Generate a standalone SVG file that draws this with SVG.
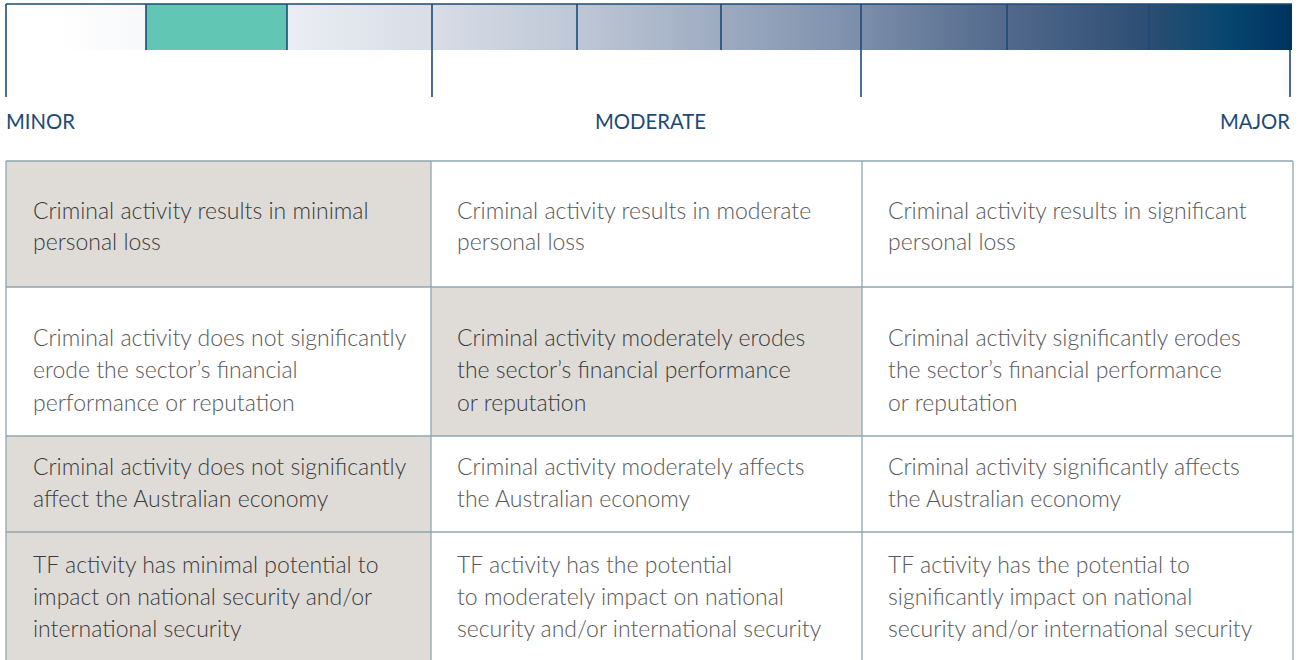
<svg xmlns="http://www.w3.org/2000/svg" width="1305" height="660" viewBox="0 0 1305 660">
<style>
.hd{font-family:"Lato","Liberation Sans",sans-serif;font-size:22px;fill:#1b4a77}
.tx{font-family:"Lato","Liberation Sans",sans-serif;font-weight:300;font-size:23px}
.sh .tx{fill:#3a3a3a}
.wh .tx{fill:#585858}
.sh rect{fill:#dfdcd8}
.wh rect{fill:#ffffff}
.tick{stroke:#1d4a75;stroke-width:1.6;fill:none}
.grid{stroke:#8fa6ae;stroke-width:1.3;fill:none}
</style>
<defs>
<linearGradient id="scale" gradientUnits="userSpaceOnUse" x1="6" y1="0" x2="1292" y2="0">
<stop offset="0" stop-color="#ffffff"/>
<stop offset="0.042" stop-color="#ffffff"/>
<stop offset="0.109" stop-color="#f7f8fa"/>
<stop offset="0.219" stop-color="#eaedf3"/>
<stop offset="0.331" stop-color="#d8dde6"/>
<stop offset="0.444" stop-color="#bec7d6"/>
<stop offset="0.556" stop-color="#9dabc1"/>
<stop offset="0.665" stop-color="#7b8eaa"/>
<stop offset="0.778" stop-color="#52698c"/>
<stop offset="0.889" stop-color="#2c4e72"/>
<stop offset="0.95" stop-color="#06466f"/>
<stop offset="1" stop-color="#00335f"/>
</linearGradient>
</defs>
<rect x="0" y="0" width="1305" height="660" fill="#ffffff"/>

<g id="scale-bar">
<rect x="6" y="4" width="1286" height="46" fill="url(#scale)"/>
<rect x="146" y="4" width="141" height="46" fill="#62c6b5"/>
<line class="tick" x1="6" y1="4" x2="1292" y2="4"/>
<line class="tick" x1="6" y1="4" x2="6" y2="97"/>
<line class="tick" x1="146" y1="4" x2="146" y2="50"/>
<line class="tick" x1="287" y1="4" x2="287" y2="50"/>
<line class="tick" x1="432" y1="4" x2="432" y2="97"/>
<line class="tick" x1="577" y1="4" x2="577" y2="50"/>
<line class="tick" x1="721" y1="4" x2="721" y2="50"/>
<line class="tick" x1="861" y1="4" x2="861" y2="97"/>
<line class="tick" x1="1007" y1="4" x2="1007" y2="50"/>
<line class="tick" x1="1149" y1="4" x2="1149" y2="50"/>
<line class="tick" x1="1290" y1="50" x2="1290" y2="97"/>
</g>

<g id="label-minor"><text class="hd" x="6" y="129" textLength="69" lengthAdjust="spacingAndGlyphs">MINOR</text></g>
<g id="label-moderate"><text class="hd" x="595" y="129" textLength="111" lengthAdjust="spacingAndGlyphs">MODERATE</text></g>
<g id="label-major"><text class="hd" x="1220" y="129" textLength="70" lengthAdjust="spacingAndGlyphs">MAJOR</text></g>

<g id="r1c1" class="sh"><rect x="6" y="161" width="425" height="126"/>
<text class="tx" x="33" y="219">Criminal activity results in minimal</text>
<text class="tx" x="33" y="250">personal loss</text></g>
<g id="r1c2" class="wh"><rect x="431" y="161" width="431" height="126"/>
<text class="tx" x="457" y="219">Criminal activity results in moderate</text>
<text class="tx" x="457" y="250">personal loss</text></g>
<g id="r1c3" class="wh"><rect x="862" y="161" width="431" height="126"/>
<text class="tx" x="888" y="219">Criminal activity results in significant</text>
<text class="tx" x="888" y="250">personal loss</text></g>

<g id="r2c1" class="wh"><rect x="6" y="287" width="425" height="149"/>
<text class="tx" x="33" y="346">Criminal activity does not significantly</text>
<text class="tx" x="33" y="378">erode the sector’s financial</text>
<text class="tx" x="33" y="411">performance or reputation</text></g>
<g id="r2c2" class="sh"><rect x="431" y="287" width="431" height="149"/>
<text class="tx" x="457" y="346">Criminal activity moderately erodes</text>
<text class="tx" x="457" y="378">the sector’s financial performance</text>
<text class="tx" x="457" y="411">or reputation</text></g>
<g id="r2c3" class="wh"><rect x="862" y="287" width="431" height="149"/>
<text class="tx" x="888" y="346">Criminal activity significantly erodes</text>
<text class="tx" x="888" y="378">the sector’s financial performance</text>
<text class="tx" x="888" y="411">or reputation</text></g>

<g id="r3c1" class="sh"><rect x="6" y="436" width="425" height="96"/>
<text class="tx" x="33" y="475">Criminal activity does not significantly</text>
<text class="tx" x="33" y="507">affect the Australian economy</text></g>
<g id="r3c2" class="wh"><rect x="431" y="436" width="431" height="96"/>
<text class="tx" x="457" y="475">Criminal activity moderately affects</text>
<text class="tx" x="457" y="507">the Australian economy</text></g>
<g id="r3c3" class="wh"><rect x="862" y="436" width="431" height="96"/>
<text class="tx" x="888" y="475">Criminal activity significantly affects</text>
<text class="tx" x="888" y="507">the Australian economy</text></g>

<g id="r4c1" class="sh"><rect x="6" y="532" width="425" height="130"/>
<text class="tx" x="33" y="573">TF activity has minimal potential to</text>
<text class="tx" x="33" y="605">impact on national security and/or</text>
<text class="tx" x="33" y="637">international security</text></g>
<g id="r4c2" class="wh"><rect x="431" y="532" width="431" height="130"/>
<text class="tx" x="457" y="573">TF activity has the potential</text>
<text class="tx" x="457" y="605">to moderately impact on national</text>
<text class="tx" x="457" y="637">security and/or international security</text></g>
<g id="r4c3" class="wh"><rect x="862" y="532" width="431" height="130"/>
<text class="tx" x="888" y="573">TF activity has the potential to</text>
<text class="tx" x="888" y="605">significantly impact on national</text>
<text class="tx" x="888" y="637">security and/or international security</text></g>

<g id="connectors">
<line class="grid" x1="6" y1="161" x2="1293" y2="161"/>
<line class="grid" x1="6" y1="287" x2="1293" y2="287"/>
<line class="grid" x1="6" y1="436" x2="1293" y2="436"/>
<line class="grid" x1="6" y1="532" x2="1293" y2="532"/>
<line class="grid" x1="6" y1="161" x2="6" y2="662"/>
<line class="grid" x1="431" y1="161" x2="431" y2="662"/>
<line class="grid" x1="862" y1="161" x2="862" y2="662"/>
<line class="grid" x1="1293" y1="161" x2="1293" y2="662"/>
</g>
</svg>
